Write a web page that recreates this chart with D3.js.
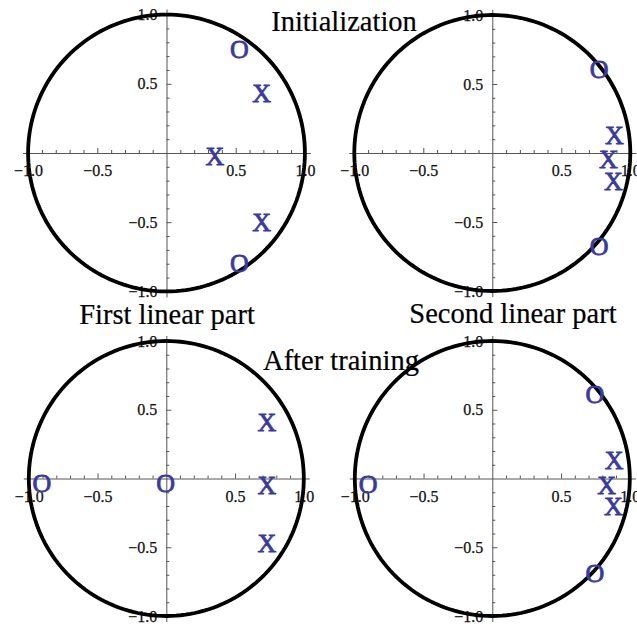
<!DOCTYPE html>
<html>
<head>
<meta charset="utf-8">
<script src="https://cdn.jsdelivr.net/npm/d3@7"></script>
<style>
  html, body { margin: 0; padding: 0; background: #fff; }
  svg { display: block; }
</style>
</head>
<body>
<svg id="chart" width="637" height="624"></svg>
<script>
// ---- data ----
const majorTicks = [-1, -0.5, 0.5, 1];
const minorTicks = [-0.9, -0.8, -0.7, -0.6, -0.4, -0.3, -0.2, -0.1, 0.1, 0.2, 0.3, 0.4, 0.6, 0.7, 0.8, 0.9];

const initFirst = [
  {m: "O", x: 0.526, y: 0.745},
  {m: "X", x: 0.687, y: 0.432},
  {m: "X", x: 0.350, y: -0.027},
  {m: "X", x: 0.687, y: -0.501},
  {m: "O", x: 0.526, y: -0.797}
];
const initSecond = [
  {m: "O", x: 0.775, y: 0.609},
  {m: "X", x: 0.884, y: 0.130},
  {m: "X", x: 0.841, y: -0.046},
  {m: "X", x: 0.877, y: -0.208},
  {m: "O", x: 0.775, y: -0.679}
];
const afterFirst = [
  {m: "X", x: 0.732, y: 0.406},
  {m: "X", x: 0.732, y: -0.047},
  {m: "X", x: 0.732, y: -0.471},
  {m: "O", x: -0.904, y: -0.038},
  {m: "O", x: -0.005, y: -0.038}
];
const afterSecond = [
  {m: "O", x: 0.747, y: 0.612},
  {m: "X", x: 0.887, y: 0.129},
  {m: "X", x: 0.831, y: -0.047},
  {m: "X", x: 0.880, y: -0.205},
  {m: "O", x: 0.747, y: -0.689},
  {m: "O", x: -0.903, y: -0.040}
];

const titles = [
  {t: "Initialization", x: 344, y: 31},
  {t: "First linear part", x: 167, y: 324},
  {t: "Second linear part", x: 513, y: 323},
  {t: "After training", x: 341, y: 370}
];

// ---- layout ----
const panels = [
  {data: initFirst,   cx: 166.5, cy: 153,   u: 138.4},
  {data: initSecond,  cx: 492.3, cy: 153,   u: 138.0},
  {data: afterFirst,  cx: 166.3, cy: 478.5, u: 137.5},
  {data: afterSecond, cx: 492.3, cy: 478.5, u: 137.5}
];

const svg = d3.select("#chart");
const serif = "'Liberation Serif', 'Times New Roman', serif";
const ext = 1.04;
const markerColor = "#3a3a9c";
const axisColor = "#555";
const mfs = 26;

panels.forEach(p => {
  const x = d3.scaleLinear().domain([-ext, ext]).range([p.cx - ext * p.u, p.cx + ext * p.u]);
  const y = d3.scaleLinear().domain([-ext, ext]).range([p.cy + ext * p.u, p.cy - ext * p.u]);
  const g = svg.append("g");

  // x axis minor
  g.append("g").attr("transform", `translate(0,${y(0)})`)
    .call(d3.axisBottom(x).tickValues(minorTicks).tickSizeInner(-3).tickSizeOuter(0).tickFormat(""))
    .call(s => s.select(".domain").attr("stroke", axisColor))
    .call(s => s.selectAll(".tick line").attr("stroke", axisColor));
  // x axis major
  g.append("g").attr("transform", `translate(0,${y(0)})`)
    .call(d3.axisBottom(x).tickValues(majorTicks).tickSizeInner(-5).tickSizeOuter(0).tickPadding(12).tickFormat(d3.format(".1f")))
    .call(s => s.select(".domain").remove())
    .call(s => s.selectAll(".tick line").attr("stroke", axisColor))
    .call(s => s.selectAll(".tick text").attr("font-family", serif).attr("font-size", 16).attr("fill", "#111")
      .attr("stroke", "#111").attr("stroke-width", 0.25));

  // y axis minor
  g.append("g").attr("transform", `translate(${x(0)},0)`)
    .call(d3.axisLeft(y).tickValues(minorTicks).tickSizeInner(-3).tickSizeOuter(0).tickFormat(""))
    .call(s => s.select(".domain").attr("stroke", axisColor))
    .call(s => s.selectAll(".tick line").attr("stroke", axisColor));
  // y axis major
  g.append("g").attr("transform", `translate(${x(0)},0)`)
    .call(d3.axisLeft(y).tickValues(majorTicks).tickSizeInner(-5).tickSizeOuter(0).tickPadding(9).tickFormat(d3.format(".1f")))
    .call(s => s.select(".domain").remove())
    .call(s => s.selectAll(".tick line").attr("stroke", axisColor))
    .call(s => s.selectAll(".tick text").attr("font-family", serif).attr("font-size", 16).attr("fill", "#111")
      .attr("stroke", "#111").attr("stroke-width", 0.25));

  // unit circle
  const circle = d3.range(0, 361, 2).map(a => [Math.cos(a * Math.PI / 180), Math.sin(a * Math.PI / 180)]);
  g.append("path")
    .attr("d", d3.line().x(d => x(d[0])).y(d => y(d[1]))(circle))
    .attr("fill", "none").attr("stroke", "#000").attr("stroke-width", 3.8);

  // markers
  g.selectAll("text.mk").data(p.data).enter().append("text")
    .attr("class", "mk")
    .attr("x", d => x(d.x))
    .attr("y", d => y(d.y) + mfs * 0.33)
    .attr("text-anchor", "middle")
    .attr("font-family", serif)
    .attr("font-size", mfs)
    .attr("fill", markerColor)
    .attr("stroke", markerColor)
    .attr("stroke-width", 0.8)
    .text(d => d.m);
});

svg.selectAll("text.title").data(titles).enter().append("text")
  .attr("class", "title")
  .attr("x", d => d.x).attr("y", d => d.y)
  .attr("text-anchor", "middle")
  .attr("font-family", serif)
  .attr("font-size", 28.5)
  .attr("fill", "#000")
  .attr("stroke", "#000")
  .attr("stroke-width", 0.2)
  .text(d => d.t);
</script>
</body>
</html>
